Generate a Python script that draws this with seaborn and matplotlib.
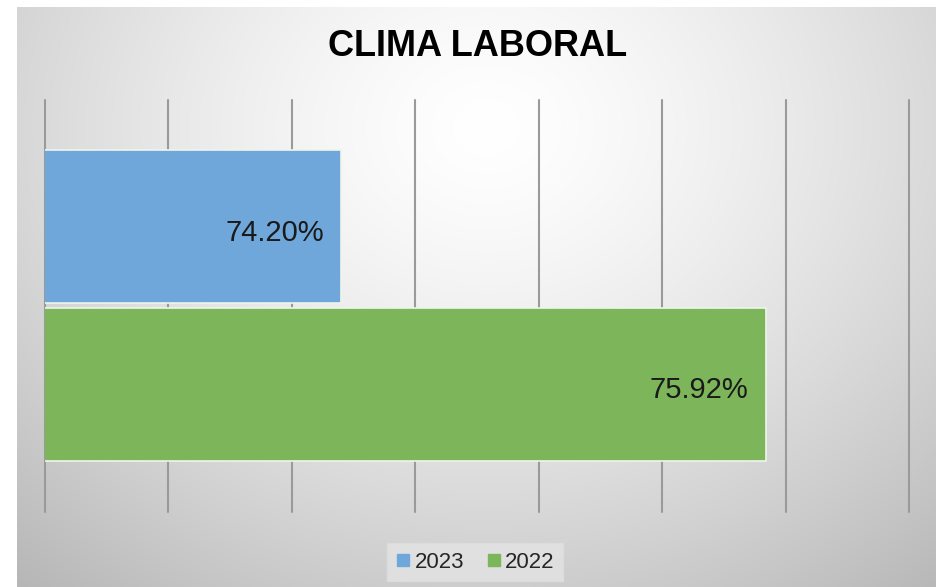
import matplotlib.pyplot as plt
import numpy as np
import pandas as pd
import seaborn as sns

# Chart data
years = ['2023', '2022']
values = [74.20, 75.92]
bar_colors = ['#6FA7DB', '#7DB65A']
grid_ticks = [73.0, 73.5, 74.0, 74.5, 75.0, 75.5, 76.0, 76.5]

df = pd.DataFrame({'year': years, 'value': values})

sns.set_theme(style='white')
plt.rcParams['font.family'] = ['Liberation Sans', 'DejaVu Sans']

fig = plt.figure(figsize=(9.37, 5.87), dpi=100)
fig.patch.set_facecolor('white')

# Background gradient (light centre, greyer edges)
bg = fig.add_axes([17 / 937, 0, 1 - 17 / 937, 1 - 7 / 587])
h, w = 580, 920
yy, xx = np.mgrid[0:h, 0:w]
d = np.sqrt(((xx - 470) / 600) ** 2 + ((yy - 120) / 500) ** 2)
shade = 1.0 - 0.22 * np.clip(d, 0, 1.2) ** 1.4
bg.imshow(np.dstack([shade] * 3), aspect='auto', extent=[0, 1, 0, 1])
bg.axis('off')

ax = fig.add_axes([45 / 937, 1 - 512 / 587, 864 / 937, 412 / 587])
ax.patch.set_alpha(0)
ax.set_axisbelow(True)
ax.set_xticks(grid_ticks)
ax.grid(axis='x', color='#9a9a9a', linewidth=1.5)
sns.barplot(data=df, x='value', y='year', hue='year', palette=bar_colors,
            width=0.97, edgecolor='#eef5ea', linewidth=1.2, saturation=1,
            legend=False, ax=ax)

ax.set_xlim(73.0, 76.5)
ax.set_ylim(1.81, -0.80)
ax.set_xticks(grid_ticks)
for gl in ax.get_xgridlines():
    gl.set_clip_on(False)
ax.tick_params(left=False, bottom=False, labelleft=False, labelbottom=False)
ax.set_xlabel('')
ax.set_ylabel('')
for s in ax.spines.values():
    s.set_visible(False)

for i, v in enumerate(values):
    ax.text(v - 0.07, i + 0.04, f'{v:.2f}%', ha='right', va='center',
            fontsize=21, color='#1a1a1a', zorder=5)

fig.text(0.51, 1 - 47 / 587, 'CLIMA LABORAL', ha='center', va='center',
         fontsize=26, fontweight='bold', color='black')

handles = [plt.Line2D([], [], marker='s', linestyle='', markersize=8,
                      color=c) for c in bar_colors]
leg = fig.legend(handles, years, loc='center', bbox_to_anchor=(0.507, 1 - 562 / 587),
                 ncol=2, frameon=True, fontsize=16, handletextpad=0.15,
                 columnspacing=1.0, borderpad=0.4, handlelength=0.7)
leg.get_frame().set_facecolor('#e4e4e4')
leg.get_frame().set_edgecolor('#dedede')
leg.get_frame().set_boxstyle('square', pad=0)

fig.savefig('out.png', dpi=100)
